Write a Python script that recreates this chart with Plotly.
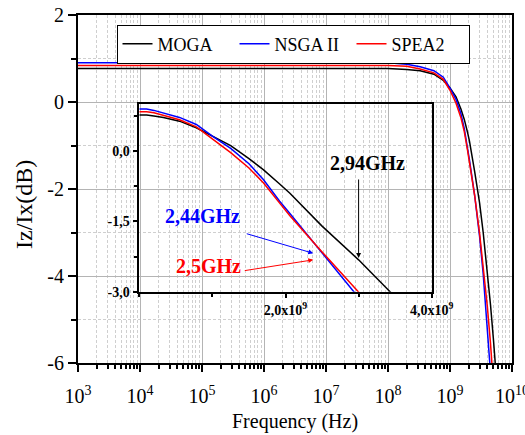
import plotly.graph_objects as go

# ---- data (frequency in Hz, response in dB) ----
freq_hz = [1e3, 1e4, 1e5, 1e6, 1e7, 1e8, 2e8, 3.3e8, 5.5e8, 7.8e8, 1.0e9, 1.25e9,
           1.5e9, 1.7e9, 1.92e9, 2.06e9, 2.5e9, 3.0e9, 3.43e9, 4.0e9, 4.5e9, 5.0e9, 5.5e9]
moga = [0.77, 0.77, 0.77, 0.77, 0.77, 0.77, 0.75, 0.72, 0.64, 0.50, 0.32, 0.12,
        -0.16, -0.40, -0.70, -0.90, -1.60, -2.32, -3.00, -3.88, -4.66, -5.43, -6.20]
nsga2 = [0.90, 0.90, 0.90, 0.90, 0.90, 0.90, 0.87, 0.81, 0.72, 0.57, 0.32, 0.06,
         -0.27, -0.61, -1.07, -1.33, -2.15, -3.09, -3.95, -5.07, -6.05, -7.0, -7.9]
spea2 = [0.84, 0.84, 0.84, 0.84, 0.84, 0.84, 0.82, 0.76, 0.67, 0.52, 0.27, -0.03,
         -0.36, -0.68, -1.11, -1.38, -2.15, -3.02, -3.75, -4.70, -5.55, -6.40, -7.3]

series_names = ["MOGA", "NSGA II", "SPEA2"]
series_colors = ["#000000", "#0000ff", "#ff0000"]
series_values = [moga, nsga2, spea2]

x_tick_exps = [3, 4, 5, 6, 7, 8, 9, 10]
y_ticks = [-6, -4, -2, 0, 2]
y_tick_labels = ["-6", "-4", "-2", "0", "2"]
inset_x_ticks = [2e9, 4e9]
inset_x_labels = ["2,0x10<sup>9</sup>", "4,0x10<sup>9</sup>"]
inset_y_ticks = [0, -1.5, -3]
inset_y_labels = ["0,0", "-1,5", "-3,0"]

FONT = "Liberation Serif"

fig = go.Figure()
for name, col, vals in zip(series_names, series_colors, series_values):
    fig.add_trace(go.Scatter(x=freq_hz, y=vals, mode="lines", name=name,
                             line=dict(color=col, width=1.5), xaxis="x", yaxis="y"))
for name, col, vals in zip(series_names, series_colors, series_values):
    fig.add_trace(go.Scatter(x=freq_hz, y=vals, mode="lines", name=name, showlegend=False,
                             line=dict(color=col, width=1.5), xaxis="x2", yaxis="y2"))

W, H = 525, 435
L, R, T, B = 78, 13, 15, 72
pw, ph = W - L - R, H - T - B

def px2paper_x(px):
    return (px - L) / pw

def px2paper_y(py):
    return (H - B - py) / ph

fig.update_layout(
    template="none",
    width=W, height=H,
    margin=dict(l=L, r=R, t=T, b=B, autoexpand=False),
    paper_bgcolor="white",
    plot_bgcolor="rgba(0,0,0,0)",
    font=dict(family=FONT, color="black", size=20),
    showlegend=True,
    legend=dict(orientation="h", x=px2paper_x(116.5), y=px2paper_y(24.5),
                xanchor="left", yanchor="top", bgcolor="white",
                bordercolor="black", borderwidth=1,
                font=dict(family=FONT, size=18, color="black"), entrywidth=72,
                tracegroupgap=0),
    xaxis=dict(type="log", range=[3, 10], domain=[0, 1], automargin=False,
               tickvals=[10 ** e for e in x_tick_exps],
               ticktext=["10<sup>%d</sup>" % e for e in x_tick_exps],
               ticklabeloverflow="allow", ticklabelstandoff=7,
               ticks="outside", ticklen=7, tickwidth=2, tickcolor="black",
               showline=True, linecolor="black", linewidth=2, mirror=True,
               showgrid=True, gridcolor="#b4b4b4", gridwidth=1,
               minor=dict(dtick="D1", ticks="outside", ticklen=4, tickwidth=1.5,
                          tickcolor="black", showgrid=True, gridcolor="#cfcfcf",
                          griddash="3px,2px", gridwidth=1),
               tickfont=dict(family=FONT, size=20, color="black"), zeroline=False),
    yaxis=dict(range=[-6, 2], domain=[0, 1], automargin=False,
               tickvals=y_ticks, ticktext=y_tick_labels,
               ticks="outside", ticklen=8, tickwidth=2, tickcolor="black",
               showline=True, linecolor="black", linewidth=2, mirror=True,
               showgrid=True, gridcolor="#b4b4b4", gridwidth=1,
               minor=dict(dtick=1, ticks="outside", ticklen=5, tickwidth=1.5,
                          tickcolor="black", showgrid=True, gridcolor="#cfcfcf",
                          griddash="3px,2px", gridwidth=1),
               tickfont=dict(family=FONT, size=20, color="black"), zeroline=False),
    xaxis2=dict(range=[0, 4e9], anchor="y2", automargin=False,
                domain=[px2paper_x(139.3), px2paper_x(431.7)],
                tickvals=inset_x_ticks, ticktext=["<b>%s</b>" % t for t in inset_x_labels],
                ticklabeloverflow="allow",
                ticks="outside", ticklen=5, tickwidth=1.5, tickcolor="black",
                showline=True, linecolor="black", linewidth=1.5, mirror=True,
                showgrid=False, zeroline=False,
                minor=dict(dtick=1e9, ticks="outside", ticklen=4, tickwidth=1.5, tickcolor="black",
                           showgrid=False),
                tickfont=dict(family=FONT, size=14, color="black")),
    yaxis2=dict(range=[-3, 1], anchor="x2", automargin=False,
                domain=[px2paper_y(291.7), px2paper_y(104.3)],
                tickvals=inset_y_ticks, ticktext=["<b>%s</b>" % t for t in inset_y_labels],
                ticks="outside", ticklen=5, tickwidth=1.5, tickcolor="black",
                showline=True, linecolor="black", linewidth=1.5, mirror=True,
                showgrid=False, zeroline=False,
                minor=dict(dtick=0.75, tick0=0, ticks="outside", ticklen=4, tickwidth=1.5,
                           tickcolor="black", showgrid=False),
                tickfont=dict(family=FONT, size=14, color="black")),
)

annotations = [
    dict(text="Frequency (Hz)", xref="paper", yref="paper",
         x=px2paper_x(295), y=px2paper_y(421), xanchor="center", yanchor="middle",
         showarrow=False, font=dict(family=FONT, size=20, color="black")),
    dict(text="Iz/Ix(dB)", xref="paper", yref="paper", textangle=-90,
         x=px2paper_x(24), y=px2paper_y(205), xanchor="center", yanchor="middle",
         showarrow=False, font=dict(family=FONT, size=24, color="black")),
    # labels in the inset
    dict(text="<b>2,94GHz</b>", xref="x2", yref="y2", x=3.12e9, y=-0.25,
         xanchor="center", yanchor="middle",
         showarrow=False, font=dict(family=FONT, size=20, color="black")),
    dict(text="<b>2,44GHz</b>", xref="x2", yref="y2", x=0.863e9, y=-1.39,
         xanchor="center", yanchor="middle",
         showarrow=False, font=dict(family=FONT, size=20, color="#0000ff")),
    dict(text="<b>2,5GHz</b>", xref="x2", yref="y2", x=0.943e9, y=-2.46,
         xanchor="center", yanchor="middle",
         showarrow=False, font=dict(family=FONT, size=20, color="#ff0000")),
    # arrows
    dict(text="", xref="x2", yref="y2", x=3.0e9, y=-2.28, ax=0, ay=-80,
         showarrow=True, arrowhead=2, arrowsize=1, arrowwidth=1, arrowcolor="black"),
    dict(text="", xref="x2", yref="y2", x=2.38e9, y=-2.18, ax=-68, ay=-20,
         showarrow=True, arrowhead=2, arrowsize=1, arrowwidth=1, arrowcolor="#0000ff"),
    dict(text="", xref="x2", yref="y2", x=2.38e9, y=-2.32, ax=-70, ay=11,
         showarrow=True, arrowhead=2, arrowsize=1, arrowwidth=1, arrowcolor="#ff0000"),
]
fig.update_layout(annotations=annotations)

fig.write_html("out.html")
